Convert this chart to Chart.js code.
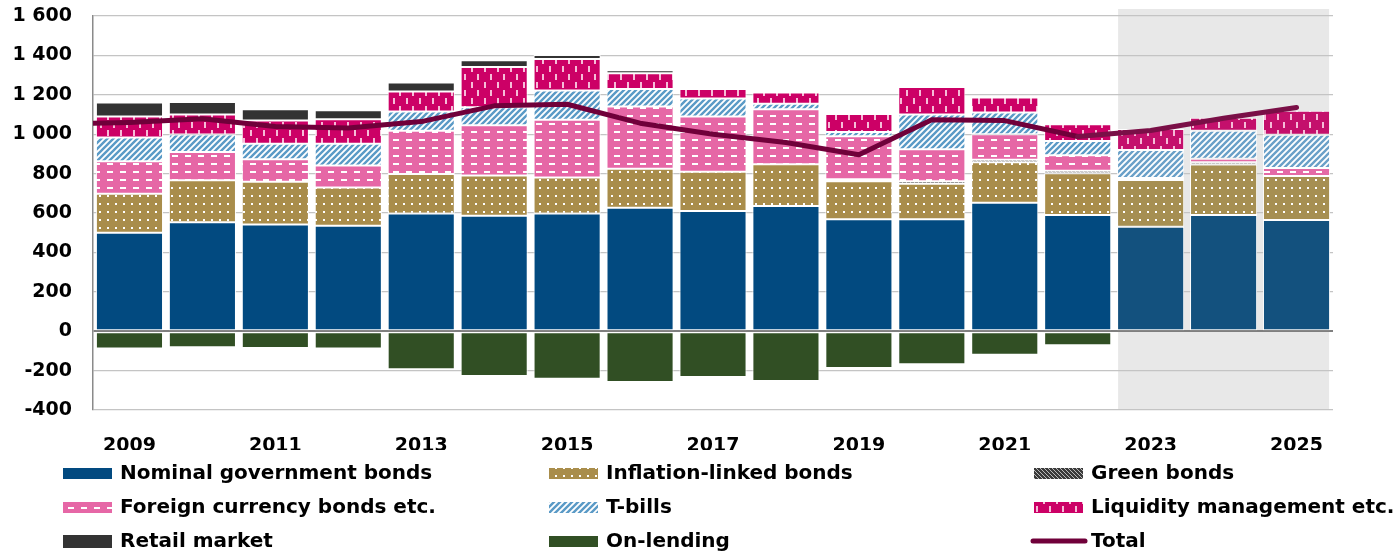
<!DOCTYPE html>
<html>
<head>
<meta charset="utf-8">
<script src="https://cdn.jsdelivr.net/npm/chart.js@4.4.1/dist/chart.umd.min.js"></script>
<style>
  html, body { margin: 0; padding: 0; background: #fff; }
  #wrap { width: 1396px; height: 553px; position: relative; }
</style>
</head>
<body>
<div id="wrap"><canvas id="myChart"></canvas></div>
<script>
// data (SEK bn)
const years = [2009, 2010, 2011, 2012, 2013, 2014, 2015, 2016, 2017, 2018, 2019, 2020, 2021, 2022, 2023, 2024, 2025];
const forecastFrom = 2023;

const nominal   = [500, 553, 542, 535, 598, 586, 598, 627, 610, 636, 568, 568, 652, 590, 530, 590, 564];
const inflation = [198, 213, 216, 194, 200, 204, 182, 197, 200, 212, 193, 181, 206, 212, 238, 256, 224];
const green     = [0, 0, 0, 0, 0, 0, 0, 0, 0, 0, 10, 12, 12, 12, 10, 12, 0];
const foreign   = [165, 144, 115, 112, 220, 256, 293, 317, 280, 279, 219, 162, 130, 79, 0, 18, 41];
const tbills    = [120, 88, 78, 110, 97, 91, 149, 88, 91, 27, 21, 177, 110, 73, 142, 141, 168];
const liquidity = [107, 102, 118, 125, 102, 204, 160, 81, 48, 58, 92, 140, 76, 85, 106, 66, 122];
const retail    = [71, 63, 58, 46, 45, 34, 20, 14, 8, 5, 3, 0, 0, 0, 0, 0, 0];
const onLending = [-88, -81, -85, -88, -193, -227, -241, -258, -232, -253, -187, -168, -120, -71, 0, 0, 0];

// the total line starts one year earlier (clipped at the axis)
const totalYears = [2008, 2009, 2010, 2011, 2012, 2013, 2014, 2015, 2016, 2017, 2018, 2019, 2020, 2021, 2022, 2023, 2024, 2025];
const total      = [1050, 1060, 1078, 1039, 1031, 1064, 1144, 1152, 1056, 1000, 958, 896, 1073, 1069, 988, 1019, 1081, 1136];

const yMin = -400, yMax = 1600, yStep = 200;

const FONT = "'DejaVu Sans', sans-serif";
const barPct = 0.92;

const canvas = document.getElementById("myChart");
const cx = canvas.getContext("2d");

function makePattern(w, h, bg, draw) {
    const c = document.createElement("canvas");
    c.width = w; c.height = h;
    const g = c.getContext("2d");
    if (bg) { g.fillStyle = bg; g.fillRect(0, 0, w, h); }
    draw(g, w, h);
    return cx.createPattern(c, "repeat");
}

const dots = bg => makePattern(8, 8, bg, g => { g.fillStyle = "#fff"; g.fillRect(3, 3, 2, 2); });
const dashes = bg => makePattern(13, 8, bg, g => { g.fillStyle = "#fff"; g.fillRect(3, 3, 6, 2); });
const vdashes = bg => makePattern(13, 16, bg, g => {
    g.fillStyle = "#f6bcd8";
    g.fillRect(3, 2, 2, 6);
    g.fillRect(9, 10, 2, 6);
});
const stripes = col => makePattern(6, 6, "#fff", g => {
    g.strokeStyle = col; g.lineWidth = 2.4;
    g.beginPath();
    g.moveTo(-3, 3); g.lineTo(3, -3);
    g.moveTo(0, 6); g.lineTo(6, 0);
    g.moveTo(3, 9); g.lineTo(9, 3);
    g.stroke();
});
const hatch = makePattern(4, 4, "#3a3a3a", g => {
    g.strokeStyle = "#bbb"; g.lineWidth = 1;
    g.beginPath();
    g.moveTo(0, 0); g.lineTo(4, 4);
    g.stroke();
});

const fills = {
    nominal:   ["#024a80", "#13517e"],
    inflation: [dots("#a98d4b"), dots("#a68f52")],
    green:     [hatch, hatch],
    foreign:   [dashes("#e667a6"), dashes("#e46aa6")],
    tbills:    [stripes("#5a9ac6"), stripes("#6aa0c8")],
    liquidity: [vdashes("#cc0066"), vdashes("#c4106c")],
    retail:    ["#333333", "#333333"],
    onLending: ["#314f24", "#314f24"]
};

const isFc = i => years[i] >= forecastFrom;

function barSet(label, data, key) {
    return {
        type: "bar",
        label: label,
        data: data,
        swatch: fills[key][0],
        backgroundColor: c => fills[key][isFc(c.dataIndex) ? 1 : 0],
        borderColor: "rgba(255,255,255,0.95)",
        borderWidth: 1,
        borderSkipped: false,
        order: 1,
        grouped: false,
        categoryPercentage: barPct,
        barPercentage: 1
    };
}

const datasets = [
    barSet("Nominal government bonds", nominal, "nominal"),
    barSet("Inflation-linked bonds", inflation, "inflation"),
    barSet("Green bonds", green, "green"),
    barSet("Foreign currency bonds etc.", foreign, "foreign"),
    barSet("T-bills", tbills, "tbills"),
    barSet("Liquidity management etc.", liquidity, "liquidity"),
    barSet("Retail market", retail, "retail"),
    barSet("On-lending", onLending, "onLending"),
    {
        type: "line",
        label: "Total",
        xAxisID: "xl",
        stack: "total",
        data: totalYears.map((x, i) => ({ x: x, y: total[i] })),
        borderColor: "#70003a",
        swatch: "#70003a",
        borderWidth: 5,
        borderCapStyle: "round",
        borderJoinStyle: "round",
        pointRadius: 0,
        tension: 0,
        order: 0,
        segment: { borderColor: s => s.p0.parsed.x >= forecastFrom - 1 ? "#7a0f47" : undefined }
    }
];

// legend order: 3 columns x 3 rows
const legendCols = [63, 549, 1034];
const legendRows = [473, 507, 541];

const forecastShade = {
    id: "forecastShade",
    beforeDraw(chart) {
        const x = chart.scales.x, a = chart.chartArea, ctx = chart.ctx;
        const w = (x.right - x.left) / years.length * barPct;
        const left = x.getPixelForValue(years.indexOf(forecastFrom)) - w / 2 + 1;
        const right = x.getPixelForValue(years.length - 1) + w / 2 - 1;
        ctx.save();
        ctx.fillStyle = "#e8e8e8";
        ctx.fillRect(left, a.top - 7, right - left, a.bottom - a.top + 7);
        ctx.restore();
    }
};

const gridLegend = {
    id: "gridLegend",
    afterDraw(chart) {
        const ctx = chart.ctx;
        ctx.save();
        ctx.font = "bold 20px " + FONT;
        ctx.textBaseline = "middle";
        chart.data.datasets.forEach((ds, k) => {
            const x = legendCols[k % 3], y = legendRows[Math.floor(k / 3)];
            if (ds.type === "line") {
                ctx.strokeStyle = ds.swatch;
                ctx.lineWidth = 5;
                ctx.lineCap = "round";
                ctx.beginPath();
                ctx.moveTo(x - 1, y); ctx.lineTo(x + 51, y);
                ctx.stroke();
            } else {
                const h = ds.label === "Retail market" ? 13 : 11;
                ctx.fillStyle = ds.swatch;
                ctx.fillRect(x, Math.round(y - h / 2), 49, h);
            }
            ctx.fillStyle = "#000";
            ctx.fillText(ds.label, x + 57, y + 1);
        });
        ctx.restore();
    }
};

const fmt = v => String(v).replace(/\B(?=(\d{3})+(?!\d))/g, " ");

new Chart(canvas, {
    type: "bar",
    data: { labels: years, datasets: datasets },
    options: {
        responsive: true,
        maintainAspectRatio: false,
        animation: false,
        layout: { padding: { top: 16, left: 0, right: 63, bottom: 103 } },
        plugins: { legend: { display: false }, tooltip: { enabled: false } },
        scales: {
            x: {
                stacked: true,
                grid: { display: false },
                border: { display: false },
                ticks: {
                    autoSkip: false,
                    maxRotation: 0,
                    padding: 17,
                    color: "#000",
                    font: { family: FONT, weight: "bold", size: 19 },
                    callback: (v, i) => (i % 2 === 0 ? years[i] : "")
                },
                afterFit: s => { s.height = 40; s.paddingLeft = 0; s.paddingRight = 0; }
            },
            xl: {
                type: "linear",
                display: false,
                offset: false,
                min: totalYears[1] - 0.5,
                max: totalYears[totalYears.length - 1] + 0.5
            },
            y: {
                stacked: true,
                min: yMin,
                max: yMax,
                ticks: {
                    stepSize: yStep,
                    padding: 21,
                    color: "#000",
                    font: { family: FONT, weight: "bold", size: 19 },
                    callback: v => fmt(v)
                },
                grid: {
                    drawTicks: false,
                    color: c => (c.tick && c.tick.value === 0 ? "#7f7f7f" : "#c4c4c4"),
                    lineWidth: c => (c.tick && c.tick.value === 0 ? 2 : 1.3)
                },
                border: { display: true, color: "#8a8a8a", width: 1.5 },
                afterFit: s => { s.width = 93; s.paddingTop = 0; s.paddingBottom = 0; }
            }
        }
    },
    plugins: [forecastShade, gridLegend]
});
</script>
</body>
</html>
